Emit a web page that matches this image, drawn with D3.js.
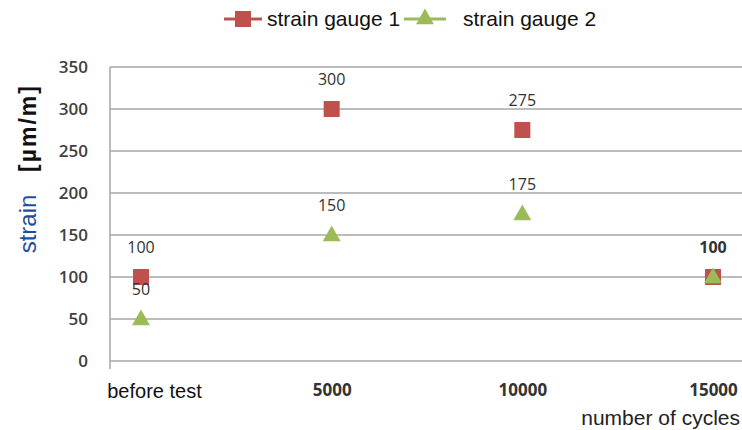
<!DOCTYPE html>
<html>
<head>
<meta charset="utf-8">
<script src="https://cdn.jsdelivr.net/npm/d3@7"></script>
<style>
  body { margin: 0; background: #fff; }
  svg { display: block; font-family: "Liberation Sans", Arial, sans-serif; }
</style>
</head>
<body>
<div id="chart"></div>
<script>
// chart data
const categories = ['before test', '5000', '10000', '15000'];
const gauge1 = [100, 300, 275, 100];
const gauge2 = [50, 150, 175, 100];
const yTicks = [0, 50, 100, 150, 200, 250, 300, 350];
const seriesNames = ['strain gauge 1', 'strain gauge 2'];

const width = 742, height = 430;
const margin = {top: 67, right: 0, bottom: 69, left: 110};
const numFont = "'Open Sans', 'DejaVu Sans', sans-serif";

const svg = d3.select("#chart")
    .append("svg")
    .attr("width", width)
    .attr("height", height);

/* scales */
const xScale = d3.scalePoint()
    .domain(categories)
    .range([141, 713]);
const yScale = d3.scaleLinear()
    .domain([0, 350])
    .range([height - margin.bottom, margin.top]);

/* gridlines */
svg.append("g")
    .selectAll("line")
    .data(yTicks)
    .join("line")
    .attr("x1", margin.left)
    .attr("x2", width)
    .attr("y1", d => yScale(d))
    .attr("y2", d => yScale(d))
    .attr("stroke", "#a6a6a6")
    .attr("stroke-width", 1.5);

/* y axis line */
svg.append("line")
    .attr("x1", margin.left).attr("x2", margin.left)
    .attr("y1", yScale(350)).attr("y2", yScale(0) + 8)
    .attr("stroke", "#a6a6a6")
    .attr("stroke-width", 1.5);

/* y tick labels */
const yAxis = d3.axisLeft(yScale).tickValues(yTicks).tickSize(0).tickPadding(0);
const yGroup = svg.append("g")
    .attr("transform", `translate(88,0)`)
    .call(yAxis);
yGroup.select(".domain").remove();
yGroup.selectAll("text")
    .attr("font-family", numFont)
    .attr("font-size", 17)
    .attr("font-weight", 600)
    .attr("fill", "#404040");

/* x tick labels */
const xAxis = d3.axisBottom(xScale).tickSize(0).tickPadding(0);
const xGroup = svg.append("g")
    .attr("transform", `translate(0, 384)`)
    .call(xAxis);
xGroup.select(".domain").remove();
xGroup.selectAll("text")
    .attr("font-family", d => d === 'before test' ? "'Liberation Sans', Arial, sans-serif" : numFont)
    .attr("font-size", d => d === 'before test' ? 20 : 17)
    .attr("font-weight", d => d === 'before test' ? "normal" : 700)
    .attr("fill", d => d === 'before test' ? "#111" : "#333")
    .attr("dx", d => d === 'before test' ? 13 : 0);

/* x axis title */
svg.append("text")
    .attr("x", 740).attr("y", 425)
    .attr("text-anchor", "end")
    .attr("font-size", 21)
    .attr("fill", "#222")
    .text("number of cycles");

/* y axis title */
svg.append("text")
    .attr("transform", "translate(36,224) rotate(-90)")
    .attr("text-anchor", "middle")
    .attr("font-size", 24)
    .attr("fill", "#1f4e9c")
    .text("strain");
svg.append("text")
    .attr("transform", "translate(36,128) rotate(-90)")
    .attr("text-anchor", "middle")
    .attr("font-size", 23)
    .attr("font-weight", "bold")
    .attr("letter-spacing", 2)
    .attr("fill", "#111")
    .text("[\u00b5m/m]");

const red = "#c0504d", green = "#9bbb59";
const tri = d3.symbol().type(d3.symbolTriangle).size(140);

/* series 1 squares */
svg.append("g")
    .selectAll("rect")
    .data(gauge1)
    .join("rect")
    .attr("x", (d, i) => xScale(categories[i]) - 8)
    .attr("y", d => yScale(d) - 8)
    .attr("width", 16)
    .attr("height", 16)
    .attr("fill", red);

/* series 2 triangles */
svg.append("g")
    .selectAll("path")
    .data(gauge2)
    .join("path")
    .attr("d", tri)
    .attr("transform", (d, i) => `translate(${xScale(categories[i])},${yScale(d) + 1})`)
    .attr("fill", green);

/* data labels */
[gauge1, gauge2].forEach((s, k) => {
    svg.append("g")
        .selectAll("text")
        .data(s)
        .join("text")
        .filter((d, i) => !(k === 1 && i === 3))
        .attr("x", (d, i) => xScale(categories[i]))
        .attr("y", d => yScale(d) - 24)
        .attr("text-anchor", "middle")
        .attr("font-family", numFont)
        .attr("font-size", 16)
        .attr("font-weight", (d, i) => i === 3 ? 700 : 500)
        .attr("fill", "#333")
        .text(d => d);
});

/* legend */
const legend = svg.append("g").attr("transform", "translate(0,19)");
legend.append("line").attr("x1", 224).attr("x2", 262).attr("stroke", red).attr("stroke-width", 3);
legend.append("rect").attr("x", 235).attr("y", -8).attr("width", 16).attr("height", 16).attr("fill", red);
legend.append("text").attr("x", 267).attr("y", 7).attr("font-size", 21).attr("fill", "#111").text(seriesNames[0]);
legend.append("line").attr("x1", 404).attr("x2", 446).attr("stroke", green).attr("stroke-width", 3);
legend.append("path").attr("d", tri).attr("transform", "translate(425,0)").attr("fill", green);
legend.append("text").attr("x", 463).attr("y", 7).attr("font-size", 21).attr("fill", "#111").text(seriesNames[1]);
</script>
</body>
</html>
